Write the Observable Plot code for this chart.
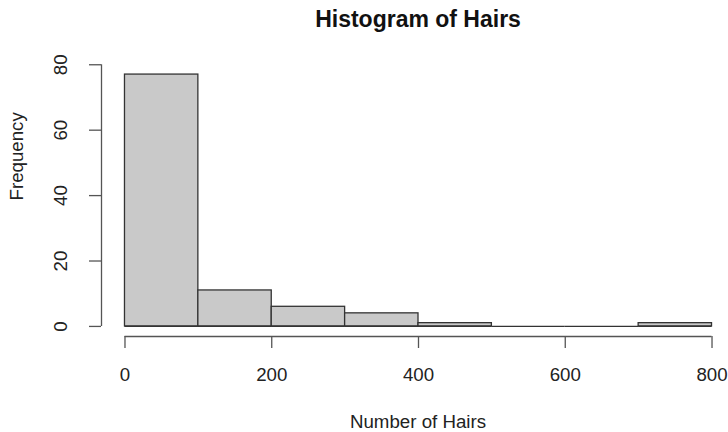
<!DOCTYPE html>
<html>
<head>
<meta charset="utf-8">
<script src="https://cdn.jsdelivr.net/npm/d3@7"></script>
<script src="https://cdn.jsdelivr.net/npm/@observablehq/plot@0.6"></script>
<style>
  html, body { margin: 0; padding: 0; background: #fff; }
</style>
</head>
<body>
<div id="chart"></div>
<script>
// Histogram bins (Number of Hairs) and frequencies
const binStarts = [0, 100, 200, 300, 400, 500, 600, 700];
const binEnds   = [100, 200, 300, 400, 500, 600, 700, 800];
const counts    = [77, 11, 6, 4, 1, 0, 0, 1];
const xTicks = [0, 200, 400, 600, 800];
const yTicks = [0, 20, 40, 60, 80];
const title = "Histogram of Hairs";
const xLabel = "Number of Hairs";
const yLabel = "Frequency";

const bins = binStarts.map((s, i) => ({x1: s, x2: binEnds[i], count: counts[i]}));

// R-style 4% axis extension
const xMin = d3.min(binStarts), xMax = d3.max(binEnds);
const yMax = d3.max(counts);
const xPad = (xMax - xMin) * 0.04;
const yPad = yMax * 0.04;

const font = "'Liberation Sans', Arial, Helvetica, sans-serif";
const ink = "#222";
const axisCol = "#555";

const chart = Plot.plot({
  width: 728,
  height: 432,
  marginLeft: 101,
  marginRight: 0,
  marginTop: 64,
  marginBottom: 96,
  style: {fontFamily: font, fontSize: "18.7px", color: ink, background: "#fff"},
  x: {domain: [xMin - xPad, xMin - xPad + (xMax - xMin + 2 * xPad) * (627 / 634)], axis: null},
  y: {domain: [-yPad, 80.08], axis: null},
  marks: [
    Plot.rectY(bins, {x1: "x1", x2: "x2", y: "count", fill: "#c9c9c9", stroke: "#333", strokeWidth: 1.3, inset: 0}),
    // flat outlines for every bin (visible for empty bins, as in R)
    Plot.ruleY(bins, {x1: "x1", x2: "x2", y: 0, stroke: "#333", strokeWidth: 1.3}),
    // x axis
    Plot.ruleY([-yPad], {x1: xTicks[0], x2: xTicks[xTicks.length - 1], stroke: axisCol, strokeWidth: 1.3}),
    Plot.axisX({ticks: xTicks, tickSize: 12, tickPadding: 19, stroke: axisCol, strokeWidth: 1.3, fill: ink, fontSize: 18.7, label: null, tickFormat: d3.format("d")}),
    // y axis
    Plot.ruleX([xMin - xPad], {y1: yTicks[0], y2: yTicks[yTicks.length - 1], stroke: axisCol, strokeWidth: 1.3}),
    Plot.axisY({ticks: yTicks, tickSize: 12, tickPadding: 23, tickRotate: -90, stroke: axisCol, strokeWidth: 1.3, fill: ink, fontSize: 18.7, label: null, tickFormat: d3.format("d")}),
    // titles
    Plot.text([title], {frameAnchor: "top", dx: 3, dy: -38, lineAnchor: "bottom", fontWeight: "bold", fontSize: 23, fill: "#111"}),
    Plot.text([xLabel], {frameAnchor: "bottom", dx: 3, dy: 91, lineAnchor: "bottom", fontSize: 18.7, fill: ink}),
    Plot.text([yLabel], {frameAnchor: "left", dx: -79, rotate: -90, lineAnchor: "bottom", fontSize: 18.7, fill: ink})
  ]
});
document.getElementById("chart").appendChild(chart);
</script>
</body>
</html>
